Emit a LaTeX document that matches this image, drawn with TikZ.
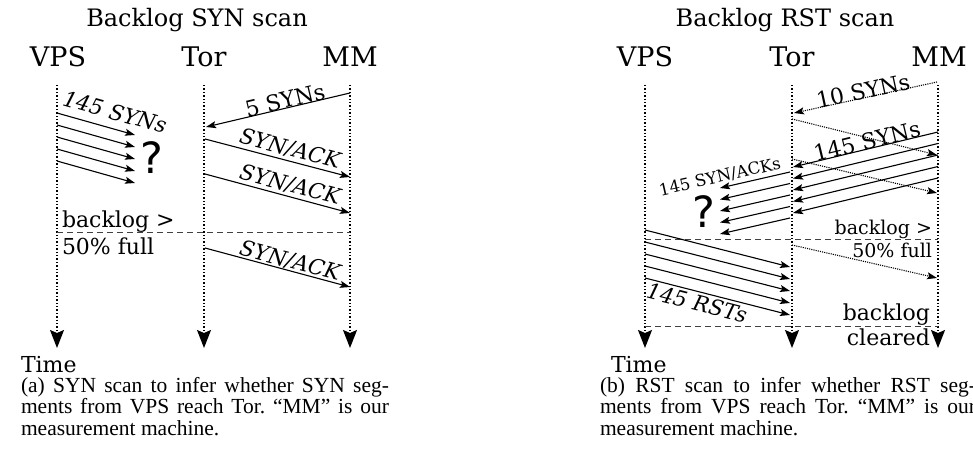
\documentclass[tikz,border=0pt]{standalone}
\usepackage{fontspec}
\setmainfont{DejaVu Serif}
\newfontfamily\capfont{Liberation Serif}
\newfontfamily\qfont{DejaVu Sans}
\usetikzlibrary{arrows.meta}
\begin{document}
\begin{tikzpicture}[x=1pt,y=-1pt,
  every node/.style={inner sep=0pt, outer sep=0pt},
  life/.style={line width=1.4pt, dash pattern=on 1.4pt off 2pt, -{Stealth[length=18pt,width=14pt,inset=3pt]}},
  msg/.style={line width=1.1pt, -{Stealth[length=10pt,width=7pt,inset=2pt]}},
  dmsg/.style={msg, dash pattern=on 1.1pt off 1.1pt},
  sep/.style={line width=0.9pt, dash pattern=on 6pt off 4pt, black!75},
  head/.style={font=\fontsize{27}{30}\selectfont},
  ttl/.style={font=\fontsize{24}{26}\selectfont},
  lbl/.style={font=\fontsize{22}{24}\selectfont},
  slbl/.style={font=\fontsize{19}{21}\selectfont},
  ilbl/.style={font=\fontsize{21.5}{24}\selectfont\itshape},
  tlbl/.style={font=\fontsize{16.5}{18}\selectfont},
  qm/.style={font=\qfont\fontsize{43}{43}\selectfont},
  captext/.style={font=\capfont\fontsize{21.5}{21.5}\selectfont\frenchspacing, align=justify, anchor=north west},
]
\useasboundingbox (0,0) rectangle (973,457);
\clip (0,0) rectangle (973,457);

% ===================== left: SYN scan =====================
\node[ttl] (t1) at (197,20) {Backlog SYN scan};
\node[head] (vps1) at (58,57) {VPS};
\node[head] (tor1) at (204,57) {Tor};
\node[head] (mm1) at (350,57) {MM};
\coordinate (v1t) at (57,85);  \coordinate (v1b) at (57,348);
\coordinate (r1t) at (204,85); \coordinate (r1b) at (204,348);
\coordinate (m1t) at (350,85); \coordinate (m1b) at (350,348);
\draw[life] (v1t) -- (v1b);
\draw[life] (r1t) -- (r1b);
\draw[life] (m1t) -- (m1b);

\foreach \i in {0,...,4}{
  \coordinate (ls\i) at (57,{113+12*\i});
  \coordinate (le\i) at (135,{135+12*\i});
  \draw[msg] (ls\i) -- (le\i);
}
\node[ilbl, rotate=-15.7] (l145) at (115,112) {145 SYNs};
\node[qm] (q1) at (152,158) {?};

\coordinate (s5a) at (350,93);  \coordinate (s5b) at (206,127);
\draw[msg] (s5a) -- (s5b);
\node[lbl, rotate=13.3] (l5) at (285,100) {5 SYNs};

\coordinate (sa1a) at (205,139); \coordinate (sa1b) at (350,177);
\draw[msg] (sa1a) -- (sa1b);
\node[ilbl, rotate=-14.7] (lsa1) at (290,149) {SYN/ACK};
\coordinate (sa2a) at (205,174); \coordinate (sa2b) at (350,213);
\draw[msg] (sa2a) -- (sa2b);
\node[ilbl, rotate=-14.7] (lsa2) at (290,185) {SYN/ACK};

\coordinate (d1a) at (57,232); \coordinate (d1b) at (350,232);
\draw[sep] (d1a) -- (d1b);
\node[lbl, anchor=base west] (bl1) at (62,227) {backlog >};
\node[lbl, anchor=base west] (fu1) at (62,254) {50\% full};

\coordinate (sa3a) at (205,248); \coordinate (sa3b) at (350,287);
\draw[msg] (sa3a) -- (sa3b);
\node[ilbl, rotate=-14.7] (lsa3) at (290,261) {SYN/ACK};

\node[lbl, anchor=base west] (time1) at (21,372) {Time};
\node[captext, text width=368pt] (cap1) at (21,377) {(a) SYN scan to infer whether SYN seg-\linebreak ments from VPS reach Tor. “MM” is our\linebreak measurement machine.};

% ===================== right: RST scan =====================
\node[ttl] (t2) at (785,20) {Backlog RST scan};
\node[head] (vps2) at (645,57) {VPS};
\node[head] (tor2) at (792,57) {Tor};
\node[head] (mm2) at (939,57) {MM};
\coordinate (v2t) at (645,85); \coordinate (v2b) at (645,348);
\coordinate (r2t) at (792,85); \coordinate (r2b) at (792,348);
\coordinate (m2t) at (938,85); \coordinate (m2b) at (938,348);
\draw[life] (v2t) -- (v2b);
\draw[life] (r2t) -- (r2b);
\draw[life] (m2t) -- (m2b);

\coordinate (s10a) at (937,82); \coordinate (s10b) at (794,113);
\draw[dmsg] (s10a) -- (s10b);
\node[lbl, rotate=12.3] (l10) at (863,91) {10 SYNs};

\coordinate (dt1a) at (792,119); \coordinate (dt1b) at (937,155);
\draw[dmsg] (dt1a) -- (dt1b);

\foreach \i in {0,...,4}{
  \coordinate (rs\i) at (938,{132+11.5*\i});
  \coordinate (re\i) at (793,{167+11.5*\i});
  \draw[msg] (rs\i) -- (re\i);
}
\node[lbl, rotate=13.6] (l145b) at (867,141) {145 SYNs};

\coordinate (dt2a) at (792,159); \coordinate (dt2b) at (937,193);
\draw[dmsg] (dt2a) -- (dt2b);

\foreach \i in {0,...,4}{
  \coordinate (as\i) at (790,{172+11.5*\i});
  \coordinate (ae\i) at (720,{188+11.5*\i});
  \draw[msg] (as\i) -- (ae\i);
}
\node[tlbl, rotate=12.9] (lsak) at (720,177) {145 SYN/ACKs};
\node[qm] (q2) at (704,212) {?};

\coordinate (d2a) at (645,239); \coordinate (d2b) at (938,239);
\draw[sep] (d2a) -- (d2b);
\node[slbl, anchor=base east] (bl2) at (932,234) {backlog >};
\node[slbl, anchor=base east] (fu2) at (932,257) {50\% full};

\coordinate (dt3a) at (792,245); \coordinate (dt3b) at (937,278);
\draw[dmsg] (dt3a) -- (dt3b);

\foreach \i in {0,...,4}{
  \coordinate (ts\i) at (645,{230+12*\i});
  \coordinate (te\i) at (790,{267+12*\i});
  \draw[msg] (ts\i) -- (te\i);
}
\node[ilbl, rotate=-14.3] (lrst) at (697,303) {145 RSTs};

\coordinate (d3a) at (645,326); \coordinate (d3b) at (938,326);
\draw[sep] (d3a) -- (d3b);
\node[lbl, anchor=base east] (bl3) at (930,320) {backlog};
\node[lbl, anchor=base east] (cl3) at (930,345) {cleared};

\node[lbl, anchor=base west] (time2) at (611,372) {Time};
\node[captext, text width=376pt] (cap2) at (600,377) {(b) RST scan to infer whether RST seg-\linebreak ments from VPS reach Tor. “MM” is our\linebreak measurement machine.};
\end{tikzpicture}
\end{document}
